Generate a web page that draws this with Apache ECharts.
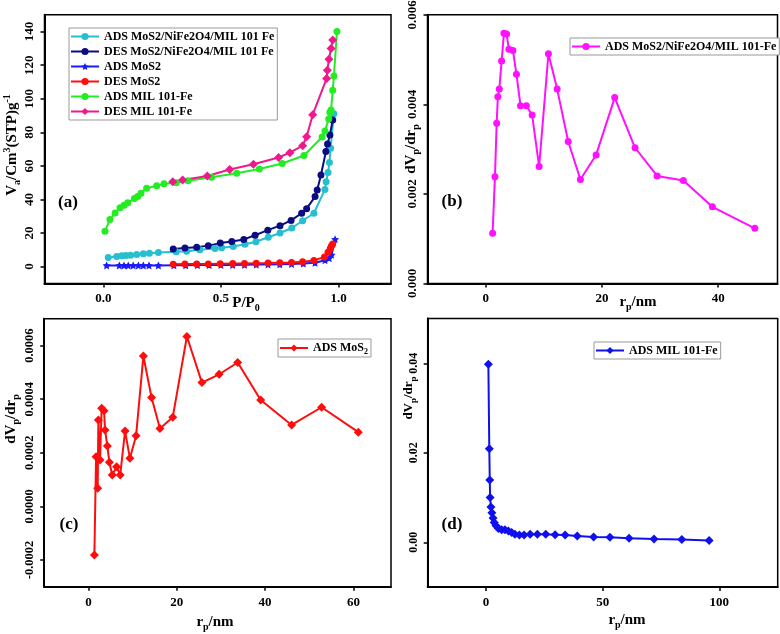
<!DOCTYPE html>
<html>
<head>
<meta charset="utf-8">
<script src="https://cdn.jsdelivr.net/npm/echarts@6/dist/echarts.min.js"></script>
<style>html,body{margin:0;padding:0;background:#fff}#c{width:780px;height:634px}</style>
</head>
<body>
<div id="c"></div>
<script>
// ---------- DATA ----------
// Panel (a): N2 isotherms [P/P0, Va]
const A_ADS_COMP = [[0.021,5.4],[0.057,6.0],[0.078,6.4],[0.096,6.6],[0.116,6.8],[0.142,7.2],[0.17,7.6],[0.196,8.0],[0.234,8.4],[0.31,8.9],[0.354,9.2],[0.41,10],[0.475,10.8],[0.503,11.2],[0.552,12.0],[0.602,13.3],[0.649,14.8],[0.701,17.5],[0.751,20],[0.801,23],[0.847,27.3],[0.895,31.8],[0.942,46],[0.947,50.5],[0.955,56],[0.961,62],[0.966,70.5],[0.98,91]];
const A_DES_COMP = [[0.297,10.5],[0.347,11.1],[0.397,11.6],[0.446,12.5],[0.497,14],[0.546,15],[0.597,16.2],[0.645,18.7],[0.699,21.7],[0.751,24.4],[0.798,27.5],[0.843,31.8],[0.864,34.5],[0.9,41.7],[0.909,45.7],[0.925,54.6],[0.946,68.5],[0.953,73.1],[0.963,78.4],[0.975,87.4]];
const A_ADS_MOS2 = [[0.014,0.7],[0.068,0.7],[0.088,0.7],[0.106,0.7],[0.127,0.7],[0.149,0.7],[0.17,0.7],[0.194,0.7],[0.234,0.7],[0.3,0.8],[0.35,0.8],[0.4,0.9],[0.45,0.9],[0.5,1.0],[0.55,1.0],[0.6,1.1],[0.65,1.2],[0.7,1.3],[0.75,1.4],[0.8,1.6],[0.85,1.8],[0.9,2.3],[0.942,3.8],[0.96,5],[0.97,7],[0.985,16.3]];
const A_DES_MOS2 = [[0.297,1.4],[0.347,1.5],[0.397,1.5],[0.446,1.6],[0.497,1.7],[0.55,1.8],[0.6,1.9],[0.65,2.0],[0.7,2.1],[0.75,2.3],[0.8,2.5],[0.847,2.9],[0.895,3.6],[0.94,5.8],[0.955,8.5],[0.965,11],[0.97,12.5],[0.975,13.5]];
const A_ADS_MIL = [[0.007,21],[0.028,28],[0.05,32],[0.071,35],[0.088,36.6],[0.104,38.1],[0.132,40.5],[0.146,41.7],[0.16,43.7],[0.184,46.7],[0.227,48.2],[0.258,49.3],[0.31,50],[0.36,51.2],[0.46,53.2],[0.567,55.6],[0.663,58.2],[0.76,61.4],[0.853,66.2],[0.93,77.2],[0.942,80.8],[0.958,88],[0.963,92],[0.968,93.3],[0.975,105],[0.98,113.6],[0.993,140]];
const A_DES_MIL = [[0.295,50.6],[0.337,51.6],[0.442,54],[0.537,57.8],[0.638,61],[0.745,65],[0.793,67.9],[0.847,72],[0.864,77.4],[0.89,90.5],[0.949,112],[0.952,117],[0.959,123.5],[0.968,130],[0.975,135]];
// Panel (b): ADS MoS2/NiFe2O4/MIL 101-Fe [rp, dVp/drp]
const B_PSD = [[1.2,0.00112],[1.6,0.00238],[1.9,0.00358],[2.1,0.00417],[2.35,0.00434],[2.75,0.00497],[3.15,0.00559],[3.6,0.00557],[4.0,0.00523],[4.7,0.00520],[5.3,0.00467],[6.0,0.00397],[7.0,0.00397],[8.0,0.00376],[9.2,0.00261],[10.8,0.00513],[12.3,0.00434],[14.2,0.00317],[16.3,0.00232],[19.0,0.00287],[22.2,0.00415],[25.7,0.00303],[29.5,0.00240],[34.0,0.00230],[39.0,0.00171],[46.3,0.00123]];
// Panel (c): ADS MoS2
const C_PSD = [[1.36,-0.000181],[1.74,0.000185],[2.11,0.0000675],[2.26,0.000322],[2.64,0.000173],[3.0,0.000366],[3.55,0.000357],[3.77,0.000285],[4.3,0.000225],[4.75,0.000165],[5.4,0.000117],[6.4,0.000148],[7.2,0.000117],[8.3,0.000281],[9.4,0.00018],[10.8,0.000264],[12.45,0.000561],[14.3,0.000406],[16.2,0.000291],[19.1,0.000333],[22.3,0.000634],[25.7,0.000462],[29.6,0.000493],[33.8,0.000537],[39.0,0.000397],[46.0,0.000304],[52.8,0.00037],[61.1,0.000277]];
// Panel (d): ADS MIL 101-Fe
const D_PSD = [[1.0,0.0398],[1.4,0.0209],[1.6,0.0139],[1.75,0.0100],[2.1,0.0079],[2.5,0.0066],[3.0,0.0054],[3.5,0.0044],[4.3,0.0037],[5.3,0.0031],[6.7,0.0028],[8.1,0.0028],[9.6,0.0025],[11,0.0022],[12.4,0.0018],[14.3,0.0016],[16.3,0.0016],[18.9,0.0018],[22,0.0018],[25.6,0.0018],[29.6,0.0017],[33.9,0.0016],[39.1,0.0014],[46.1,0.0012],[53.1,0.0011],[61.3,0.0009],[72,0.00075],[83.9,0.0006],[95.6,0.0004]];

// Tick labels
const A_X_TICKS = [0, 0.5, 1.0];
const A_Y_TICKS = [0, 20, 40, 60, 80, 100, 120, 140];
const B_X_TICKS = [0, 20, 40];
const B_Y_TICKS = [0, 0.002, 0.004, 0.006];
const C_X_TICKS = [0, 20, 40, 60];
const C_Y_TICKS = [-0.0002, 0, 0.0002, 0.0004, 0.0006];
const D_X_TICKS = [0, 50, 100];
const D_Y_TICKS = [0, 0.02, 0.04];

// ---------- STYLE ----------
const F = '"Liberation Serif", "Times New Roman", serif';
const STAR = 'path://M0,-10L2.94,-4.05L9.51,-3.09L4.76,1.55L5.88,8.09L0,5L-5.88,8.09L-4.76,1.55L-9.51,-3.09L-2.94,-4.05Z';

function xAx(gi, min, max, ticks, dec, fs) {
  return {
    type: 'value', gridIndex: gi, min: min, max: max, position: 'bottom',
    axisLine: { show: true, onZero: false, lineStyle: { color: '#000', width: 2 } },
    axisTick: { show: true, inside: false, length: 4, customValues: ticks, lineStyle: { color: '#000', width: 1.5 } },
    axisLabel: { customValues: ticks, margin: 9, formatter: v => Number(v).toFixed(dec),
      fontFamily: F, fontWeight: 'bold', fontSize: fs || 13, color: '#000' },
    splitLine: { show: false }
  };
}
function yAx(gi, min, max, ticks, dec, fs) {
  return {
    type: 'value', gridIndex: gi, min: min, max: max, position: 'left',
    axisLine: { show: true, onZero: false, lineStyle: { color: '#000', width: 2 } },
    axisTick: { show: true, inside: false, length: 4, customValues: ticks, lineStyle: { color: '#000', width: 1.5 } },
    axisLabel: { customValues: ticks, rotate: 90, margin: 8, formatter: v => Number(v).toFixed(dec),
      fontFamily: F, fontWeight: 'bold', fontSize: fs || 13, color: '#000' },
    splitLine: { show: false }
  };
}
function grid(l, t, w, h) {
  return { left: l, top: t, width: w, height: h, show: true, borderColor: '#000', borderWidth: 1.5,
    backgroundColor: 'transparent', containLabel: false, outerBoundsMode: 'none' };
}
function ser(name, data, xi, color, symbol, size) {
  return { name: name, type: 'line', xAxisIndex: xi, yAxisIndex: xi, data: data,
    symbol: symbol, symbolSize: size, showSymbol: true, color: color,
    lineStyle: { color: color, width: 2 }, itemStyle: { color: color }, emphasis: { disabled: true } };
}
function mkRich(fs) {
  return {
    n: { fontSize: fs, fontWeight: 'bold', fontFamily: F, fill: '#000', color: '#000', lineHeight: fs + 5 },
    s: { fontSize: Math.round(fs * 0.67), fontWeight: 'bold', fontFamily: F, fill: '#000', color: '#000', lineHeight: Math.round(fs * 0.72), verticalAlign: 'bottom' },
    u: { fontSize: Math.round(fs * 0.67), fontWeight: 'bold', fontFamily: F, fill: '#000', color: '#000', lineHeight: Math.round(fs * 0.72), verticalAlign: 'top' }
  };
}
function gtext(x, y, text, rot, size) {
  const fs = size || 15;
  return { type: 'text', x: x, y: y, rotation: rot ? Math.PI / 2 : 0, z: 100,
    style: { text: text, align: 'center', verticalAlign: 'middle', fill: '#000',
      fontFamily: F, fontWeight: 'bold', fontSize: fs, rich: mkRich(fs) } };
}
function legend(names, left, top, fmt) {
  const o = { show: true, data: names, orient: 'vertical', left: left, top: top,
    itemWidth: 28, itemHeight: 9, itemGap: 0, padding: [1, 3, 1, 1],
    borderColor: '#999', borderWidth: 1, backgroundColor: '#fff', selectedMode: false,
    textStyle: { fontFamily: F, fontWeight: 'bold', fontSize: 12, color: '#000', lineHeight: 15,
      rich: { m: { fontFamily: F, fontWeight: 'bold', fontSize: 12, color: '#000', lineHeight: 16 },
              s: { fontFamily: F, fontWeight: 'bold', fontSize: 8, color: '#000', lineHeight: 9, verticalAlign: 'bottom' } } } };
  if (fmt) o.formatter = fmt;
  return o;
}

const A_NAMES = ['ADS MoS2/NiFe2O4/MIL 101 Fe', 'DES MoS2/NiFe2O4/MIL 101 Fe', 'ADS MoS2', 'DES MoS2', 'ADS MIL 101-Fe', 'DES MIL 101-Fe'];
const B_NAME = 'ADS MoS2/NiFe2O4/MIL 101-Fe';
const C_NAME = 'ADS MoS₂';
const D_NAME = 'ADS MIL 101-Fe (d)';

const option = {
  animation: false,
  backgroundColor: '#fff',
  grid: [
    grid(44.5, 14.8, 346.5, 268.6),
    grid(427.5, 14.8, 350, 268.6),
    grid(44.2, 318.8, 346.8, 268),
    grid(427.7, 318.6, 350, 268.4)
  ],
  xAxis: [
    xAx(0, -0.25, 1.2227, A_X_TICKS, 1, 13),
    xAx(1, -10, 50.2, B_X_TICKS, 0, 13),
    xAx(2, -10, 68.5, C_X_TICKS, 0, 13),
    xAx(3, -25, 125, D_X_TICKS, 0, 13)
  ],
  yAxis: [
    yAx(0, -10, 150, A_Y_TICKS, 0, 13),
    yAx(1, 0, 0.006, B_Y_TICKS, 3, 13),
    yAx(2, -0.0003, 0.0007, C_Y_TICKS, 4, 12.5),
    yAx(3, -0.01, 0.05, D_Y_TICKS, 2, 12)
  ],
  legend: [
    legend(A_NAMES, 69, 28),
    legend([B_NAME], 570, 38),
    legend([C_NAME], 278, 339, () => '{m|ADS MoS}{s|2}'),
    legend([D_NAME], 594, 342, () => 'ADS MIL 101-Fe')
  ],
  series: [
    ser(A_NAMES[0], A_ADS_COMP, 0, '#26bfd0', 'circle', 7),
    ser(A_NAMES[1], A_DES_COMP, 0, '#0c0c82', 'circle', 7),
    ser(A_NAMES[2], A_ADS_MOS2, 0, '#1a1aff', STAR, 8),
    ser(A_NAMES[3], A_DES_MOS2, 0, '#ff0d0d', 'circle', 7),
    ser(A_NAMES[4], A_ADS_MIL, 0, '#22ec22', 'circle', 7),
    ser(A_NAMES[5], A_DES_MIL, 0, '#f0188c', 'diamond', 9),
    ser(B_NAME, B_PSD, 1, '#ff10ff', 'circle', 7),
    ser(C_NAME, C_PSD, 2, '#ff0d0d', 'diamond', 9),
    ser(D_NAME, D_PSD, 3, '#1010ee', 'diamond', 9)
  ],
  graphic: [
    gtext(68, 203, '(a)', false, 17),
    gtext(452, 202, '(b)', false, 17),
    gtext(69, 525, '(c)', false, 17),
    gtext(452, 525, '(d)', false, 17),
    gtext(246, 303, '{n|P/P}{s|0}', false),
    gtext(12, 145, '{n|V}{s|a}{n|/Cm}{u|3}{n|(STP)g}{u|-1}', true),
    gtext(411, 149, '{n|dV}{s|p}{n|/dr}{s|p}', true),
    gtext(638, 302, '{n|r}{s|p}{n|/nm}', false),
    gtext(11, 419, '{n|dV}{s|p}{n|/dr}{s|p}', true),
    gtext(215, 622, '{n|r}{s|p}{n|/nm}', false),
    gtext(409, 398, '{n|dV}{s|p}{n|/dr}{s|p}', true, 13),
    gtext(627, 620, '{n|r}{s|p}{n|/nm}', false)
  ]
};
const chart = echarts.init(document.getElementById('c'), null, { renderer: 'canvas' });
chart.setOption(option);
</script>
</body>
</html>
